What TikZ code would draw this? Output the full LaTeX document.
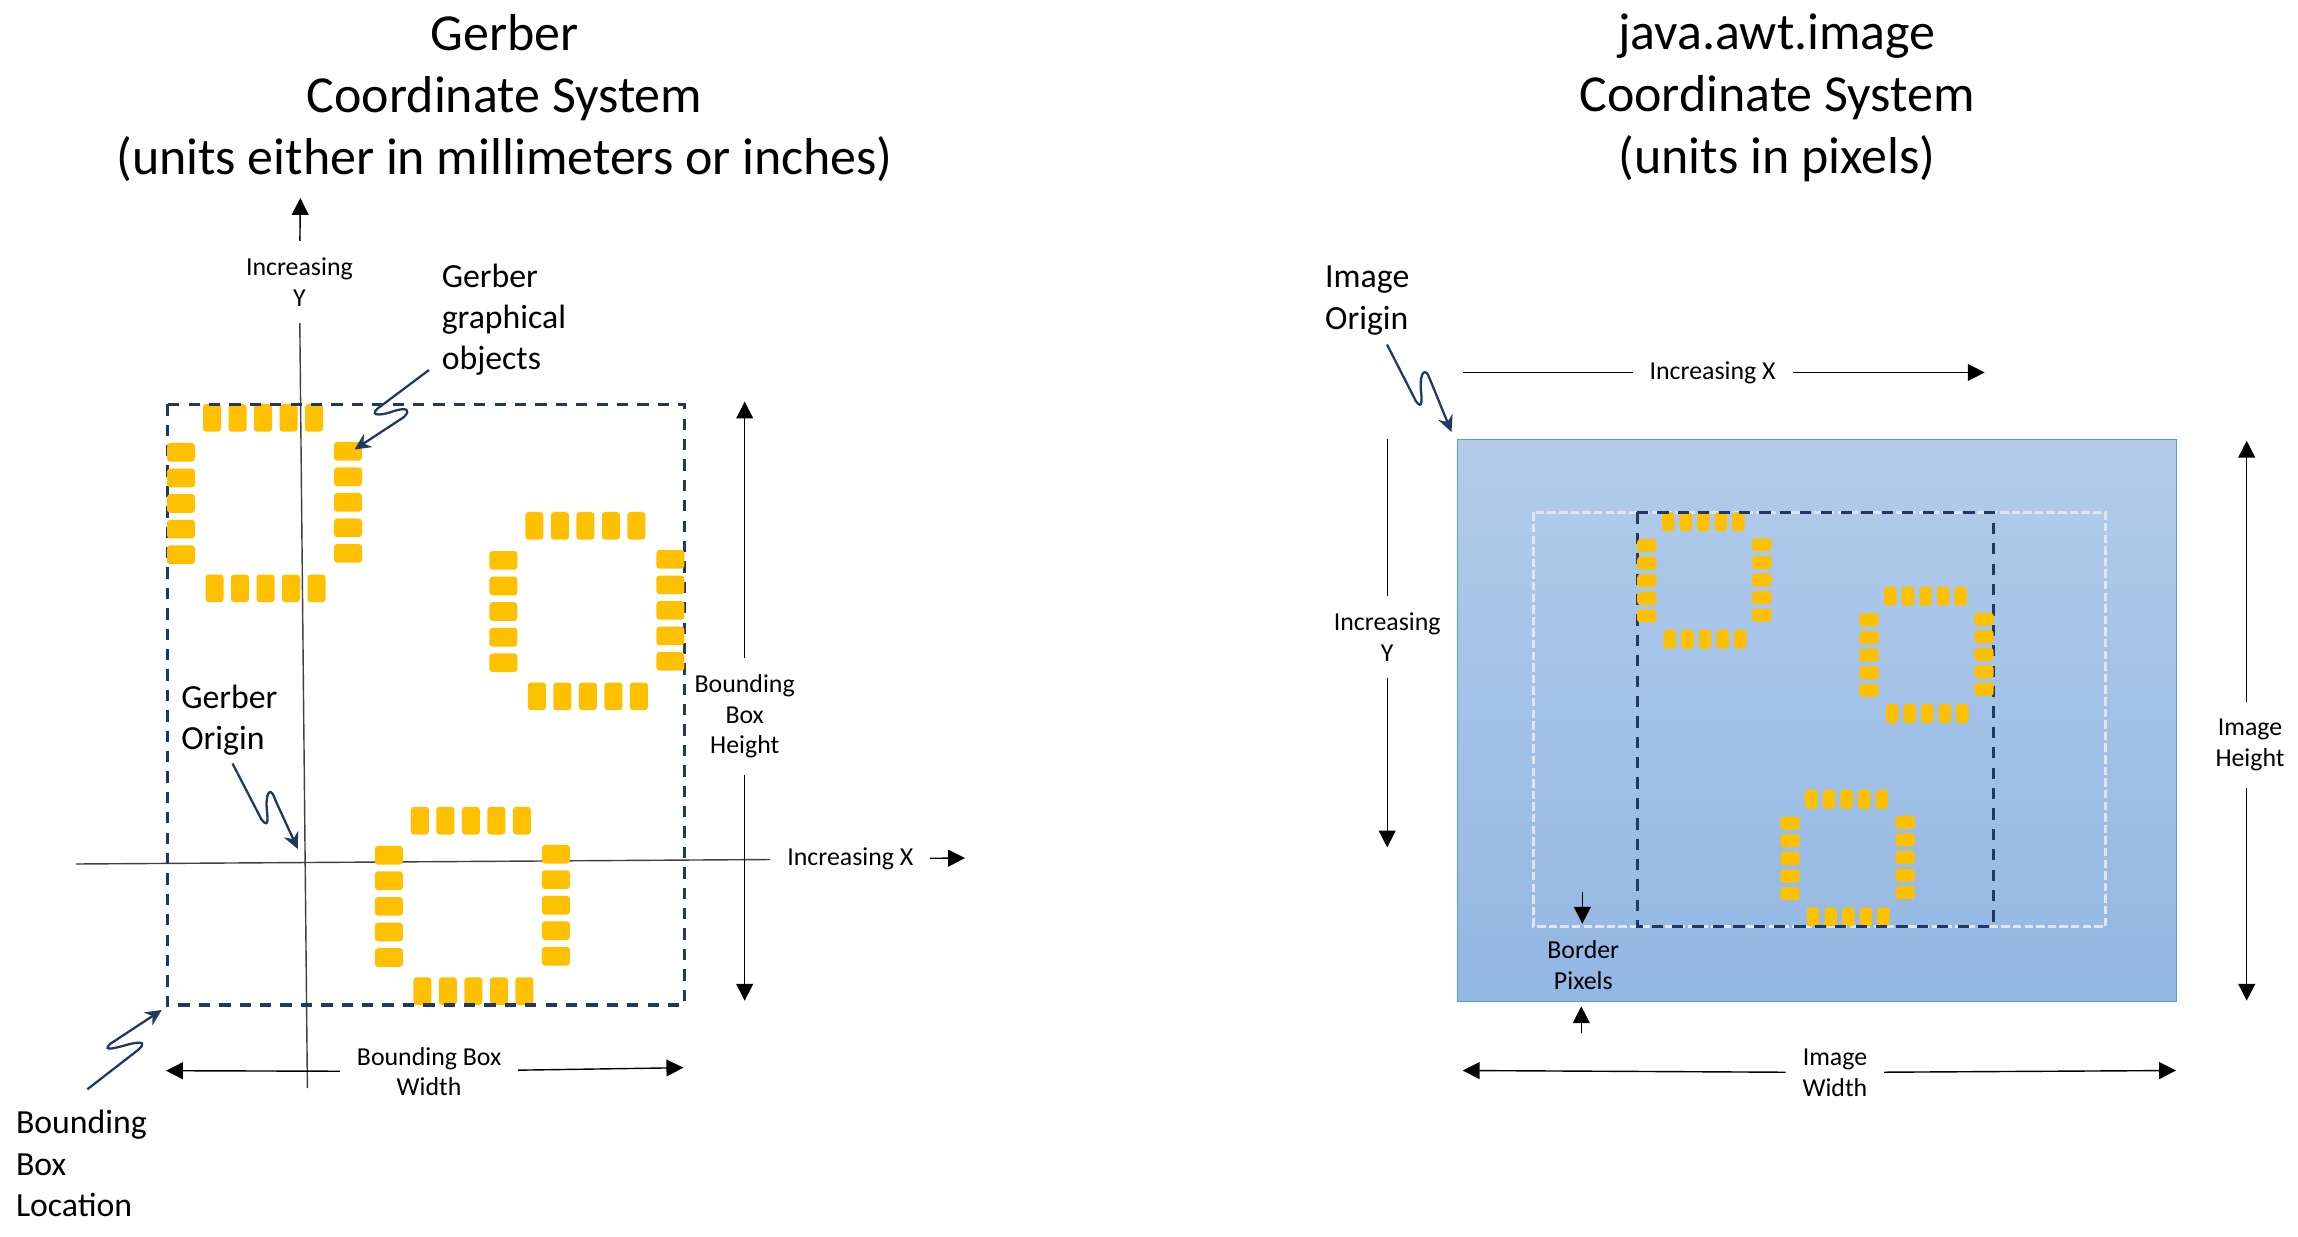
\documentclass[tikz,border=0pt]{standalone}
\usepackage{fontspec}
\setmainfont{Carlito}
\usetikzlibrary{arrows.meta}
\definecolor{cNavy}{RGB}{31,56,100}
\definecolor{cPad}{RGB}{255,192,0}
\definecolor{cBlueTop}{RGB}{178,204,234}
\definecolor{cBlueBot}{RGB}{146,183,227}
\definecolor{cBlueEdge}{RGB}{91,155,213}
\definecolor{cPale}{RGB}{226,230,236}
\tikzset{
    titletext/.style={font=\fontsize{14.77}{17.55}\selectfont,align=center,inner sep=0pt},
    bigtext/.style={font=\fontsize{9.6}{11.72}\selectfont,align=left,anchor=west,inner sep=0pt},
    smalltext/.style={font=\fontsize{7.35}{8.7}\selectfont,align=center,inner sep=4.6pt},
    arr/.style={-{Triangle[length=4.8pt,width=4.8pt]},line width=0.4pt},
    axisline/.style={line width=0.4pt,black!75},
    squiggle/.style={-{Stealth[length=4.6pt,width=4.4pt]},cNavy,line width=0.65pt},
    navydash/.style={cNavy,line width=0.95pt,dash pattern=on 3.2pt off 2.6pt},
    paledash/.style={cPale,line width=0.85pt,dash pattern=on 2.4pt off 0.9pt},
    padshape/.style={fill=cPad,rounded corners=0.9pt},
}
\newcommand{\padrows}[2]{
    \begin{scope}[shift={(#1,#2)}]
        \foreach \i in {0,...,4} {
            \fill[padshape] (203+25.5*\i,404) rectangle ++(18,27.7);
            \fill[padshape] (205.5+25.5*\i,574.5) rectangle ++(18,27.7);
        }
    \end{scope}
}
\newcommand{\padcols}[2]{
    \begin{scope}[shift={(#1,#2)}]
        \foreach \i in {0,...,4} {
            \fill[padshape] (167,443+25.6*\i) rectangle ++(28,18.7);
            \fill[padshape] (334,442+25.5*\i) rectangle ++(28,18.7);
        }
    \end{scope}
}
\newcommand{\gerberbox}{
    \padrows{0}{0}
    \padrows{322.4}{108}
    \padrows{207.9}{402.8}
    \draw[navydash] (167.3,404.3) rectangle (684.3,1005);
    \padcols{0}{0}
    \padcols{322.4}{108}
    \padcols{207.9}{402.8}
}
\begin{document}
\begin{tikzpicture}[x=0.01cm,y=-0.01cm]
        \useasboundingbox (0,0) rectangle (2298,1237);

        \node[titletext] (titleL) at (504.6,98) {Gerber\\Coordinate System\\(units either in millimeters or inches)};
        \node[titletext] (titleR) at (1777,98) {java.awt.image\\Coordinate System\\(units in pixels)};

        \node[smalltext] (yincL) at (299.4,282) {Increasing\\Y};
        \coordinate (ytipL) at (300.4,198);
        \coordinate (ybase) at (307.4,1088);
        \draw[arr] (yincL) -- (ytipL);
        \draw[axisline] (yincL) -- (ybase);

        \node[smalltext] (xincL) at (850.3,859) {Increasing X};
        \coordinate (xbase) at (75.8,864);
        \coordinate (xtipL) at (965,858);
        \draw[axisline] (xbase) -- (xincL);
        \draw[arr] (xincL) -- (xtipL);

        \gerberbox

        \node[smalltext] (hgtL) at (744.7,716.5) {Bounding\\Box\\Height};
        \coordinate (hgtTop) at (744.7,401.6);
        \coordinate (hgtBot) at (744.7,1000.7);
        \draw[arr] (hgtL) -- (hgtTop);
        \draw[arr] (hgtL) -- (hgtBot);

        \node[smalltext] (wdtL) at (429.1,1071.5) {Bounding Box\\Width};
        \coordinate (wdtLeft) at (166,1070.7);
        \coordinate (wdtRight) at (683.3,1067.7);
        \draw[arr] (wdtL) -- (wdtLeft);
        \draw[arr] (wdtL) -- (wdtRight);

        \node[bigtext] (objs) at (441.1,319.5) {Gerber\\graphical\\objects};
        \node[bigtext] (orig) at (180.6,720) {Gerber\\Origin};
        \node[bigtext] (bbloc) at (15.3,1163.5) {Bounding\\Box\\Location};
        \node[bigtext] (imgorig) at (1324.5,300.5) {Image\\Origin};

        \coordinate (objsFrom) at (429,370);
        \coordinate (objsTo) at (354.5,449.5);
        \coordinate (origFrom) at (232.5,763.5);
        \coordinate (origTo) at (297.8,849);
        \coordinate (bblocFrom) at (87.3,1089.3);
        \coordinate (bblocTo) at (161.7,1010);
        \coordinate (imgFrom) at (1387,344.5);
        \coordinate (imgTo) at (1451.5,432);
        \draw[squiggle] (objsFrom) -- (377,409) .. controls (369,417) and (384,415) .. (394,411) .. controls (407,407) and (411,410) .. (404,417) -- (objsTo);
        \draw[squiggle] (origFrom) -- (261.5,819.5) .. controls (269.5,829.5) and (267.5,817.5) .. (266.5,805.5) .. controls (266.5,789.5) and (271.5,787.5) .. (275.5,800.5) -- (origTo);
        \draw[squiggle] (bblocFrom) -- (138,1050) .. controls (146,1043) and (143,1041) .. (130,1044) .. controls (115,1048) and (102,1052) .. (110,1044) -- (bblocTo);
        \draw[squiggle] (imgFrom) -- (1415.8,401) .. controls (1422.8,411) and (1421.8,399) .. (1420.8,389) .. controls (1419.8,371) and (1425.8,367) .. (1429.8,379) -- (imgTo);

        \fill[top color=cBlueTop,bottom color=cBlueBot] (1457.7,439.3) rectangle (2176.7,1001.5);
        \draw[cBlueEdge,line width=0.4pt] (1457.7,439.3) rectangle (2176.7,1001.5);
        \draw[paledash] (1533.3,512.3) rectangle (2105.4,926.3);
        \begin{scope}[shift={(1522,233.7)},scale=0.6892]
            \gerberbox
        \end{scope}

        \node[smalltext] (xincR) at (1712.6,372.5) {Increasing X};
        \coordinate (xstartR) at (1462.7,372.5);
        \coordinate (xtipR) at (1984.6,372.5);
        \draw[line width=0.4pt] (xstartR) -- (xincR);
        \draw[arr] (xincR) -- (xtipR);

        \node[smalltext] (yincR) at (1387.2,637) {Increasing\\Y};
        \coordinate (ystartR) at (1387.2,439.5);
        \coordinate (ytipR) at (1387.2,847.4);
        \draw[line width=0.4pt] (ystartR) -- (yincR);
        \draw[arr] (yincR) -- (ytipR);

        \node[smalltext] (hgtR) at (2250,745) {Image\\Height};
        \coordinate (hgtTopR) at (2246.7,440.8);
        \coordinate (hgtBotR) at (2246.7,1000.7);
        \draw[arr] (hgtTopR |- hgtR.north) -- (hgtTopR);
        \draw[arr] (hgtBotR |- hgtR.south) -- (hgtBotR);

        \node[smalltext] (wdtR) at (1834.9,1072.5) {Image\\Width};
        \coordinate (wdtLeftR) at (1462.7,1070.5);
        \coordinate (wdtRightR) at (2176,1070.5);
        \draw[arr] (wdtR) -- (wdtLeftR);
        \draw[arr] (wdtR) -- (wdtRightR);

        \node[smalltext] (bpix) at (1583.3,965) {Border\\Pixels};
        \coordinate (bpixTop) at (1582.3,891.7);
        \coordinate (bpixBot) at (1581.3,1033.3);
        \draw[arr] (bpixTop) -- (bpixTop |- bpix.north);
        \draw[arr] (bpixBot) -- (bpixBot |- bpix.south);
\end{tikzpicture}
\end{document}
